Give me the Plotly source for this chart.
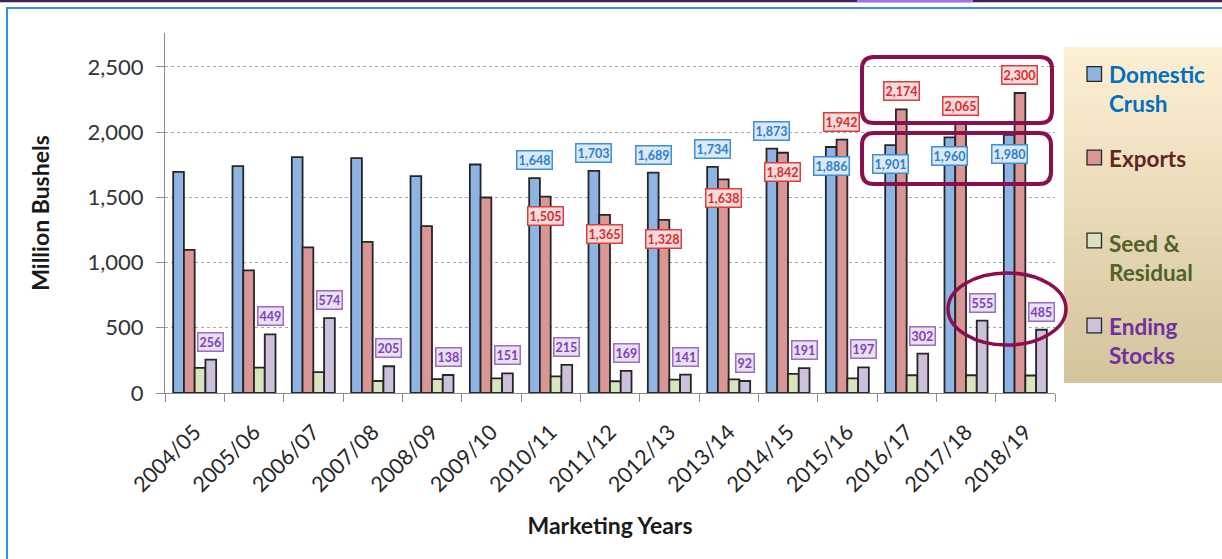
import plotly.graph_objects as go

# ---------------- data ----------------
categories = ["2004/05", "2005/06", "2006/07", "2007/08", "2008/09", "2009/10", "2010/11",
              "2011/12", "2012/13", "2013/14", "2014/15", "2015/16", "2016/17", "2017/18", "2018/19"]
domestic_crush = [1696, 1739, 1808, 1801, 1662, 1752, 1648, 1703, 1689, 1734, 1873, 1886, 1901, 1960, 1980]
exports = [1097, 940, 1116, 1159, 1279, 1499, 1505, 1365, 1328, 1638, 1842, 1942, 2174, 2065, 2300]
seed_residual = [192, 194, 160, 92, 106, 112, 128, 90, 102, 105, 146, 112, 136, 136, 134]
ending_stocks = [256, 449, 574, 205, 138, 151, 215, 169, 141, 92, 191, 197, 302, 555, 485]

series_names = ["Domestic Crush", "Exports", "Seed & Residual", "Ending Stocks"]
y_ticks = [0, 500, 1000, 1500, 2000, 2500]

# label side for each year ("" = no label)
crush_label_side = ["", "", "", "", "", "", "above", "above", "above", "above", "above",
                    "below", "below", "below", "below"]
export_label_side = ["", "", "", "", "", "", "below", "below", "below", "below", "below",
                     "above", "above", "above", "above"]

# ---------------- styling ----------------
FONT = "Lato"
W, H = 1222, 559
L, R, T, B = 165, 167, 33, 166
PW, PH = W - L - R, H - T - B
BARGAP = 0.275

fills = ["#8DB4E2", "#DA9694", "#D7E4BD", "#CCC0DA"]
legend_text_colors = ["#0070C0", "#632523", "#4F6228", "#7030A0"]


def px_x(px):
    return (px - L) / PW


def px_y(py):
    return (T + PH - py) / PH


fig = go.Figure()
for name, vals, col in zip(series_names, [domestic_crush, exports, seed_residual, ending_stocks], fills):
    fig.add_trace(go.Bar(
        name=name, x=categories, y=vals,
        marker=dict(color=col, line=dict(color="#262626", width=1.8)),
        showlegend=False,
    ))

annotations = []
bw = (1 - BARGAP) / 4
offsets = [-1.5 * bw, -0.5 * bw, 0.5 * bw, 1.5 * bw]


def data_label(i, val, off, side, txt_col, border_col, bg_col):
    annotations.append(dict(
        x=i + off, y=val, xref="x", yref="y",
        text=f"{val:,}", showarrow=False,
        yshift=18 if side == "above" else -19,
        xanchor="center", yanchor="middle",
        font=dict(family=FONT, size=12.5, color=txt_col, weight="bold"),
        bgcolor=bg_col, bordercolor=border_col, borderwidth=1.5, borderpad=1,
    ))


for i, v in enumerate(domestic_crush):
    if crush_label_side[i]:
        data_label(i, v, offsets[0], crush_label_side[i], "#2A80CF", "#3B8FDB", "#DDE8F5")
for i, v in enumerate(exports):
    if export_label_side[i]:
        data_label(i, v, offsets[1], export_label_side[i], "#DA2A2E", "#E03C3F", "#F5DCDC")
for i, v in enumerate(ending_stocks):
    data_label(i, v, offsets[3], "above", "#7F3FBF", "#9A6BC8", "#E8E1EF")

shapes = []

# frame of the slide
shapes.append(dict(type="rect", xref="paper", yref="paper",
                   x0=px_x(0), x1=px_x(W), y0=px_y(0), y1=px_y(2.2),
                   fillcolor="#3D2152", line=dict(width=0), layer="above"))
shapes.append(dict(type="rect", xref="paper", yref="paper",
                   x0=px_x(857), x1=px_x(973), y0=px_y(0), y1=px_y(2.2),
                   fillcolor="#9E72EE", line=dict(width=0), layer="above"))
shapes.append(dict(type="path", xref="paper", yref="paper",
                   path=f"M {px_x(7)},{px_y(H)} L {px_x(7)},{px_y(8)} L {px_x(W)},{px_y(8)}",
                   line=dict(color="#3591DB", width=2)))

# legend background gradient
lg_x0, lg_x1, lg_y0, lg_y1 = 1064, W, 47, 383
top_c = (253, 239, 211)
bot_c = (211, 196, 156)
N = 48
for k in range(N):
    t = k / (N - 1)
    c = tuple(round(top_c[j] + (bot_c[j] - top_c[j]) * t) for j in range(3))
    ya = lg_y0 + (lg_y1 - lg_y0) * k / N
    yb = lg_y0 + (lg_y1 - lg_y0) * (k + 1) / N + 0.6
    shapes.append(dict(type="rect", xref="paper", yref="paper",
                       x0=px_x(lg_x0), x1=px_x(lg_x1), y0=px_y(min(yb, lg_y1)), y1=px_y(ya),
                       fillcolor=f"rgb{c}", line=dict(width=0), layer="below"))

# legend entries
legend_sq_y = [74, 157.5, 240.5, 325.5]
legend_txt_y = [89, 158, 258, 341]
legend_labels = ["Domestic<br>Crush", "Exports", "Seed &<br>Residual", "Ending<br>Stocks"]
for sy, ty, lab, f, tc in zip(legend_sq_y, legend_txt_y, legend_labels, fills, legend_text_colors):
    shapes.append(dict(type="rect", xref="paper", yref="paper",
                       x0=px_x(1087), x1=px_x(1101.5), y0=px_y(sy + 7.3), y1=px_y(sy - 7.3),
                       fillcolor=f, line=dict(color="#262626", width=1.3)))
    annotations.append(dict(x=px_x(1107), y=px_y(ty), xref="paper", yref="paper",
                            text=lab, showarrow=False, xanchor="left", yanchor="middle", align="left",
                            font=dict(family=FONT, size=22.5, color=tc, weight="bold")))


def rounded_rect(x0, y0, x1, y1, r):
    pts = [
        ("M", [(x0 + r, y0)]),
        ("L", [(x1 - r, y0)]), ("Q", [(x1, y0), (x1, y0 + r)]),
        ("L", [(x1, y1 - r)]), ("Q", [(x1, y1), (x1 - r, y1)]),
        ("L", [(x0 + r, y1)]), ("Q", [(x0, y1), (x0, y1 - r)]),
        ("L", [(x0, y0 + r)]), ("Q", [(x0, y0), (x0 + r, y0)]),
    ]
    s = []
    for cmd, ps in pts:
        s.append(cmd + " " + " ".join(f"{px_x(a):.5f},{px_y(b):.5f}" for a, b in ps))
    return " ".join(s) + " Z"


hl = "#8A0F50"
shapes.append(dict(type="path", xref="paper", yref="paper", path=rounded_rect(862, 57, 1052, 123, 12),
                   line=dict(color=hl, width=4), layer="above"))
shapes.append(dict(type="path", xref="paper", yref="paper", path=rounded_rect(862, 133, 1051, 184, 12),
                   line=dict(color=hl, width=4), layer="above"))
shapes.append(dict(type="circle", xref="paper", yref="paper",
                   x0=px_x(948), x1=px_x(1066), y0=px_y(345), y1=px_y(273),
                   line=dict(color=hl, width=3.5), layer="above"))

fig.update_layout(
    width=W, height=H,
    margin=dict(l=L, r=R, t=T, b=B, autoexpand=False),
    paper_bgcolor="white", plot_bgcolor="white",
    barmode="group", bargap=BARGAP, bargroupgap=0,
    font=dict(family=FONT, color="#262626"),
    shapes=shapes, annotations=annotations,
    showlegend=False,
)
fig.update_xaxes(
    type="category", range=[-0.5, len(categories) - 0.5],
    showline=True, linecolor="#8C8C8C", linewidth=1.3,
    ticks="outside", tickson="boundaries", ticklen=8, tickcolor="#8C8C8C",
    tickangle=-45, tickfont=dict(family=FONT, size=21.5, color="#262626"),
    ticklabelstandoff=17,
    showgrid=False,
    title=dict(text="Marketing Years", font=dict(family=FONT, size=23, color="#1a1a1a", weight="bold"),
               standoff=21),
)
fig.update_yaxes(
    range=[0, 2760], tickvals=y_ticks, tickformat=",d",
    showline=True, linecolor="#8C8C8C", linewidth=1.3,
    ticks="outside", ticklen=8, tickcolor="#8C8C8C",
    tickfont=dict(family=FONT, size=22, color="#333333"),
    showgrid=True, gridcolor="#A6A6A6", griddash="dot", gridwidth=1,
    zeroline=False, ticklabelstandoff=8,
    title=dict(text="Million Bushels", font=dict(family=FONT, size=23, color="#1a1a1a", weight="bold"),
               standoff=31),
)

fig.write_html("out.html", post_script="document.body.style.margin='0';",
               config={"displayModeBar": False})
